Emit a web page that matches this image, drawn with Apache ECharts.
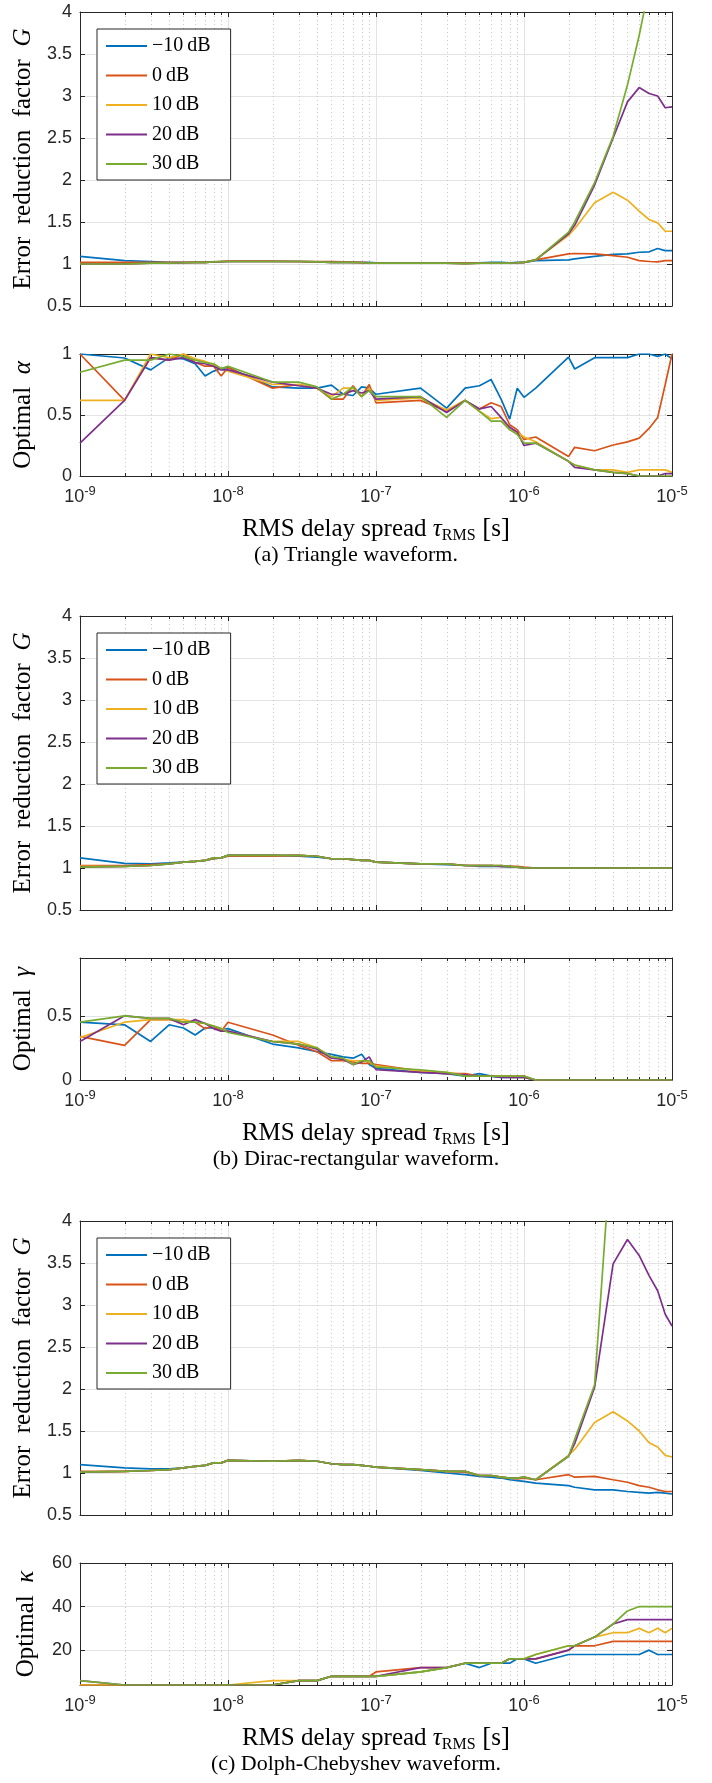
<!DOCTYPE html>
<html><head><meta charset="utf-8">
<script src="https://cdn.jsdelivr.net/npm/echarts@6/dist/echarts.min.js"></script>
<style>html,body{margin:0;padding:0;background:#fff}#c{width:712px;height:1783px}</style>
</head><body><div id="c"></div>
<script>
// ---------------- data ----------------
const tau = [1e-9,2e-9,3e-9,4e-9,5e-9,6e-9,7e-9,8e-9,9e-9,
  1e-8,2e-8,3e-8,4e-8,5e-8,6e-8,7e-8,8e-8,9e-8,
  1e-7,2e-7,3e-7,4e-7,5e-7,6e-7,7e-7,8e-7,9e-7,
  1e-6,1.2e-6,2e-6,2.2e-6,3e-6,4e-6,5e-6,6e-6,7e-6,8e-6,9e-6,1e-5];
const minorTau = [2e-9,3e-9,4e-9,5e-9,6e-9,7e-9,8e-9,9e-9,
  2e-8,3e-8,4e-8,5e-8,6e-8,7e-8,8e-8,9e-8,
  2e-7,3e-7,4e-7,5e-7,6e-7,7e-7,8e-7,9e-7,
  2e-6,3e-6,4e-6,5e-6,6e-6,7e-6,8e-6,9e-6];
const snrNames = ['\u221210\u2009dB','0\u2009dB','10\u2009dB','20\u2009dB','30\u2009dB'];
const captions = ['(a) Triangle waveform.','(b) Dirac-rectangular waveform.','(c) Dolph-Chebyshev waveform.'];
const gTicks = [0.5,1,1.5,2,2.5,3,3.5,4];
const alphaTicks = [0,0.5,1];
const gammaTicks = [0,0.5];
const kappaTicks = [20,40,60];

// (a) Triangle: error reduction factor G
const triG_m10 = [1.09,1.04,1.03,1.02,1.02,1.02,1.02,1.025,1.025, 1.03,1.03,1.03,1.025,1.02,1.02,1.02,1.02,1.02, 1.015,1.01,1.01,1.01,1.015,1.02,1.02,1.015,1.02, 1.02,1.04,1.05,1.06,1.09,1.115,1.12,1.14,1.145,1.185,1.16,1.16];
const triG_0   = [1.02,1.02,1.02,1.02,1.02,1.02,1.02,1.025,1.03, 1.035,1.035,1.03,1.03,1.03,1.025,1.02,1.02,1.015, 1.01,1.01,1.01,1.01,1.01,1.01,1.01,1.01,1.015, 1.02,1.05,1.12,1.125,1.12,1.10,1.08,1.04,1.03,1.025,1.04,1.04];
const triG_10  = [1.0,1.0,1.01,1.01,1.015,1.02,1.02,1.025,1.03, 1.03,1.03,1.03,1.025,1.02,1.02,1.02,1.015,1.01, 1.01,1.01,1.01,1.005,1.01,1.01,1.01,1.01,1.015, 1.02,1.05,1.34,1.42,1.73,1.855,1.76,1.63,1.53,1.49,1.39,1.39];
const triG_20  = [1.0,1.0,1.01,1.01,1.015,1.02,1.02,1.025,1.03, 1.03,1.03,1.03,1.025,1.02,1.02,1.02,1.015,1.01, 1.01,1.01,1.01,1.005,1.01,1.01,1.01,1.01,1.015, 1.02,1.05,1.36,1.46,1.94,2.5,2.93,3.1,3.03,3.0,2.86,2.87];
const triG_30  = [1.0,1.0,1.01,1.01,1.015,1.02,1.02,1.025,1.03, 1.03,1.03,1.03,1.025,1.02,1.02,1.02,1.015,1.01, 1.01,1.01,1.01,1.005,1.01,1.01,1.01,1.01,1.015, 1.02,1.05,1.38,1.5,1.97,2.52,3.13,3.72,4.3,4.7,5.0,5.3];
// (a) Triangle: optimal alpha
const triA_m10 = [1.0,0.967,0.87,0.97,0.96,0.92,0.82,0.86,0.88, 0.89,0.73,0.72,0.72,0.745,0.67,0.66,0.73,0.72, 0.67,0.72,0.556,0.72,0.74,0.79,0.63,0.466,0.72, 0.645,0.72,0.975,0.877,0.97,0.97,0.97,1.0,1.0,0.98,1.0,0.96];
const triA_0   = [1.0,0.62,0.97,0.95,1.0,0.93,0.90,0.90,0.82, 0.89,0.72,0.75,0.72,0.63,0.63,0.74,0.65,0.75, 0.60,0.62,0.53,0.62,0.55,0.60,0.57,0.42,0.38, 0.30,0.32,0.16,0.235,0.207,0.254,0.28,0.31,0.39,0.48,0.75,1.0];
const triA_10  = [0.62,0.62,1.0,0.97,1.0,0.96,0.94,0.91,0.88, 0.86,0.75,0.75,0.72,0.65,0.72,0.72,0.65,0.72, 0.62,0.64,0.54,0.62,0.53,0.47,0.48,0.38,0.36, 0.32,0.28,0.12,0.09,0.05,0.05,0.03,0.05,0.05,0.05,0.05,0.03];
const triA_20  = [0.27,0.62,0.97,0.95,0.97,0.93,0.92,0.90,0.87, 0.87,0.77,0.74,0.72,0.67,0.67,0.70,0.68,0.70, 0.63,0.65,0.52,0.62,0.55,0.57,0.48,0.40,0.36, 0.25,0.27,0.12,0.07,0.05,0.03,0.02,0.0,0.0,0.0,0.02,0.02];
const triA_30  = [0.85,0.95,0.95,1.0,0.98,0.95,0.93,0.92,0.88, 0.90,0.77,0.77,0.73,0.63,0.67,0.73,0.65,0.70, 0.65,0.65,0.48,0.62,0.53,0.45,0.45,0.38,0.34, 0.27,0.27,0.12,0.09,0.05,0.03,0.02,0.0,0.0,0.0,0.0,0.0];

// (b) Dirac-rectangular: G
const dirG_m10 = [1.12,1.055,1.05,1.06,1.07,1.08,1.09,1.11,1.12, 1.15,1.15,1.14,1.13,1.11,1.11,1.10,1.09,1.09, 1.07,1.05,1.04,1.03,1.02,1.02,1.02,1.01,1.01, 1.0,1.0,1.0,1.0,1.0,1.0,1.0,1.0,1.0,1.0,1.0,1.0];
const dirG_0   = [1.03,1.03,1.04,1.05,1.07,1.08,1.09,1.11,1.12, 1.14,1.14,1.15,1.14,1.11,1.11,1.10,1.09,1.09, 1.07,1.05,1.05,1.03,1.03,1.03,1.03,1.02,1.02, 1.01,1.0,1.0,1.0,1.0,1.0,1.0,1.0,1.0,1.0,1.0,1.0];
const dirG_10  = [1.02,1.02,1.03,1.05,1.07,1.08,1.09,1.12,1.12, 1.15,1.15,1.15,1.14,1.11,1.11,1.10,1.09,1.09, 1.07,1.05,1.05,1.03,1.03,1.03,1.02,1.02,1.01, 1.0,1.0,1.0,1.0,1.0,1.0,1.0,1.0,1.0,1.0,1.0,1.0];
const dirG_20  = [1.01,1.02,1.03,1.05,1.07,1.08,1.09,1.12,1.12, 1.15,1.15,1.15,1.14,1.11,1.11,1.10,1.09,1.09, 1.07,1.05,1.05,1.03,1.03,1.03,1.02,1.02,1.01, 1.0,1.0,1.0,1.0,1.0,1.0,1.0,1.0,1.0,1.0,1.0,1.0];
const dirG_30  = [1.01,1.02,1.03,1.05,1.07,1.08,1.09,1.12,1.12, 1.15,1.15,1.15,1.14,1.11,1.11,1.10,1.09,1.09, 1.07,1.05,1.05,1.03,1.03,1.03,1.03,1.02,1.01, 1.0,1.0,1.0,1.0,1.0,1.0,1.0,1.0,1.0,1.0,1.0,1.0];
// (b) Dirac-rectangular: optimal gamma
const dirY_m10 = [0.45,0.43,0.30,0.43,0.405,0.35,0.405,0.405,0.39, 0.40,0.28,0.25,0.22,0.20,0.18,0.17,0.20,0.12, 0.09,0.06,0.05,0.03,0.05,0.03,0.02,0.02,0.02, 0.02,0.0,0.0,0.0,0.0,0.0,0.0,0.0,0.0,0.0,0.0,0.0];
const dirY_0   = [0.34,0.27,0.47,0.47,0.45,0.45,0.40,0.42,0.38, 0.45,0.35,0.27,0.22,0.15,0.15,0.14,0.13,0.13, 0.12,0.07,0.05,0.05,0.03,0.03,0.03,0.03,0.03, 0.03,0.0,0.0,0.0,0.0,0.0,0.0,0.0,0.0,0.0,0.0,0.0];
const dirY_10  = [0.33,0.45,0.47,0.47,0.47,0.45,0.44,0.42,0.40, 0.38,0.30,0.30,0.25,0.18,0.16,0.15,0.15,0.14, 0.11,0.07,0.06,0.04,0.03,0.03,0.03,0.02,0.02, 0.02,0.0,0.0,0.0,0.0,0.0,0.0,0.0,0.0,0.0,0.0,0.0];
const dirY_20  = [0.30,0.50,0.48,0.48,0.43,0.47,0.44,0.40,0.38, 0.38,0.30,0.28,0.24,0.17,0.16,0.12,0.14,0.18, 0.08,0.06,0.05,0.04,0.03,0.03,0.02,0.02,0.02, 0.02,0.0,0.0,0.0,0.0,0.0,0.0,0.0,0.0,0.0,0.0,0.0];
const dirY_30  = [0.45,0.50,0.48,0.48,0.45,0.45,0.44,0.42,0.40, 0.37,0.30,0.28,0.25,0.18,0.17,0.12,0.15,0.15, 0.10,0.08,0.06,0.03,0.03,0.03,0.03,0.03,0.03, 0.03,0.0,0.0,0.0,0.0,0.0,0.0,0.0,0.0,0.0,0.0,0.0];

// (c) Dolph-Chebyshev: G
const dolG_m10 = [1.10,1.06,1.05,1.05,1.06,1.08,1.09,1.12,1.12, 1.15,1.14,1.14,1.14,1.11,1.10,1.10,1.09,1.08, 1.07,1.03,1.0,0.98,0.96,0.95,0.94,0.92,0.91, 0.90,0.88,0.85,0.83,0.80,0.80,0.78,0.77,0.76,0.77,0.76,0.75];
const dolG_0   = [1.02,1.02,1.03,1.04,1.06,1.08,1.09,1.12,1.12, 1.15,1.14,1.15,1.14,1.11,1.10,1.10,1.09,1.08, 1.07,1.04,1.02,1.01,0.97,0.97,0.95,0.94,0.93, 0.94,0.92,0.98,0.95,0.96,0.92,0.89,0.85,0.83,0.80,0.78,0.78];
const dolG_10  = [1.01,1.02,1.03,1.04,1.06,1.08,1.09,1.12,1.12, 1.15,1.14,1.15,1.14,1.11,1.10,1.10,1.09,1.08, 1.07,1.04,1.02,1.02,0.97,0.97,0.95,0.94,0.94, 0.95,0.92,1.21,1.28,1.60,1.73,1.62,1.50,1.36,1.31,1.21,1.19];
const dolG_20  = [1.01,1.02,1.03,1.04,1.06,1.08,1.09,1.12,1.12, 1.15,1.14,1.15,1.14,1.11,1.10,1.10,1.09,1.08, 1.07,1.04,1.02,1.02,0.97,0.97,0.95,0.94,0.94, 0.95,0.92,1.20,1.35,2.02,3.49,3.78,3.59,3.35,3.17,2.89,2.75];
const dolG_30  = [1.01,1.02,1.03,1.04,1.06,1.08,1.09,1.12,1.12, 1.15,1.14,1.15,1.14,1.11,1.10,1.10,1.09,1.08, 1.07,1.04,1.02,1.02,0.97,0.97,0.95,0.94,0.94, 0.95,0.92,1.20,1.40,2.05,5.2,6.5,7.0,7.5,8.0,8.2,8.5];
// (c) Dolph-Chebyshev: optimal kappa
const dolK_m10 = [4,4,4,4,4,4,4,4,4, 4,4,6,6,8,8,8,8,8, 8,10,12,14,12,14,14,14,16, 16,14,18,18,18,18,18,18,20,18,18,18];
const dolK_0   = [4,4,4,4,4,4,4,4,4, 4,4,6,6,8,8,8,8,8, 10,12,12,14,14,14,14,16,16, 16,16,20,22,22,24,24,24,24,24,24,24];
const dolK_10  = [4,4,4,4,4,4,4,4,4, 4,6,6,6,8,8,8,8,8, 8,10,12,14,14,14,14,16,16, 16,18,22,22,26,28,28,30,28,30,28,30];
const dolK_20  = [6,4,4,4,4,4,4,4,4, 4,4,6,6,8,8,8,8,8, 8,12,12,14,14,14,14,16,16, 16,16,20,22,26,32,34,34,34,34,34,34];
const dolK_30  = [6,4,4,4,4,4,4,4,4, 4,4,6,6,8,8,8,8,8, 8,10,12,14,14,14,14,16,16, 16,18,22,22,26,32,38,40,40,40,40,40];

// ---------------- chart ----------------
const colors = ['#0072BD','#D95319','#EDB120','#7E2F8E','#77AC30'];
const AX = '#262626';
const SERIF = 'Liberation Serif';
const SANS = 'Liberation Sans';

const panels = [
  {g:[triG_m10,triG_0,triG_10,triG_20,triG_30], s:[triA_m10,triA_0,triA_10,triA_20,triA_30], sym:'\u03b1', sMin:0, sMax:1, sTicks:alphaTicks},
  {g:[dirG_m10,dirG_0,dirG_10,dirG_20,dirG_30], s:[dirY_m10,dirY_0,dirY_10,dirY_20,dirY_30], sym:'\u03b3', sMin:0, sMax:0.95, sTicks:gammaTicks},
  {g:[dolG_m10,dolG_0,dolG_10,dolG_20,dolG_30], s:[dolK_m10,dolK_0,dolK_10,dolK_20,dolK_30], sym:'\u03ba', sMin:4, sMax:60, sTicks:kappaTicks}
];
const panelTop = [12, 616, 1221];
const G_H = 294, S_OFF = 342, S_H = 122, LEFT = 80, WIDTH = 592;

const grid = [], xAxis = [], yAxis = [], series = [], legend = [], title = [];

function minorRender(params, api) {
  const cs = params.coordSys;
  const x = Math.round(api.coord([api.value(0), api.value(1)])[0]) + 0.5;
  const y0 = cs.y, y1 = cs.y + cs.height;
  return {type:'group', children:[
    {type:'line', shape:{x1:x,y1:y0,x2:x,y2:y1}, style:{stroke:'#c8c8c8', lineWidth:1, lineDash:[1,3]}, silent:true},
    {type:'line', shape:{x1:x,y1:y1,x2:x,y2:y1-3}, style:{stroke:AX, lineWidth:1}, silent:true},
    {type:'line', shape:{x1:x,y1:y0,x2:x,y2:y0+3}, style:{stroke:AX, lineWidth:1}, silent:true}
  ]};
}

const xLabelRich = {
  b:{fontFamily:SANS, fontSize:18, color:AX, lineHeight:21, verticalAlign:'bottom'},
  s:{fontFamily:SANS, fontSize:13, color:AX, lineHeight:13, verticalAlign:'top'}
};

function addGrid(top, height, isSmall, yCfg, datasets, yName) {
  const gi = grid.length;
  grid.push({left:LEFT, top:top, width:WIDTH, height:height, containLabel:false});
  const xb = xAxis.length;
  const common = {type:'log', logBase:10, min:1e-9, max:1e-5, gridIndex:gi};
  xAxis.push(Object.assign({}, common, {
    position:'bottom',
    axisLine:{show:true, onZero:false, lineStyle:{color:AX, width:1}},
    axisTick:{show:true, inside:true, length:5, lineStyle:{color:AX}},
    splitLine:{show:true, lineStyle:{color:'#e3e3e3', width:1}},
    minorTick:{show:false}, minorSplitLine:{show:false},
    axisLabel:{show:isSmall, margin:9, showMinLabel:true, showMaxLabel:true,
      formatter: v => '{b|10}{s|' + Math.round(Math.log10(v)) + '}', rich:xLabelRich},
    name: isSmall ? '{n|RMS delay spread }{i|\u03c4}{sub|RMS}{br| [}{n|s}{br|]}' : '',
    nameLocation:'middle', nameGap:39,
    nameTextStyle:{rich:{
      n:{fontFamily:SERIF, fontSize:25, color:'#000', lineHeight:29},
      br:{fontFamily:SERIF, fontSize:27, color:'#000', lineHeight:29},
      i:{fontFamily:SERIF, fontStyle:'italic', fontSize:25, color:'#000', lineHeight:29},
      sub:{fontFamily:SERIF, fontSize:16, color:'#000', lineHeight:16, verticalAlign:'bottom'}
    }}
  }));
  xAxis.push(Object.assign({}, common, {
    position:'top',
    axisLine:{show:true, onZero:false, lineStyle:{color:AX, width:1}},
    axisTick:{show:true, inside:true, length:5, lineStyle:{color:AX}},
    splitLine:{show:false}, axisLabel:{show:false}
  }));
  const yb = yAxis.length;
  const ycommon = {type:'value', gridIndex:gi, min:yCfg.min, max:yCfg.max};
  yAxis.push(Object.assign({}, ycommon, {
    position:'left',
    axisLine:{show:true, onZero:false, lineStyle:{color:AX, width:1}},
    axisTick:{show:true, inside:true, length:5, lineStyle:{color:AX}, customValues:yCfg.ticks},
    axisLabel:{show:true, margin:8, color:AX, fontFamily:SANS, fontSize:18, customValues:yCfg.ticks,
      formatter: v => String(v)},
    splitLine:{show:true, lineStyle:{color:'#e3e3e3', width:1}},
    name: yName, nameLocation:'middle', nameRotate:90, nameGap:40,
    nameTextStyle:{rich:{
      n:{fontFamily:SERIF, fontSize:25, color:'#000', lineHeight:27},
      i:{fontFamily:SERIF, fontStyle:'italic', fontSize:25, color:'#000', lineHeight:27}
    }}
  }));
  yAxis.push(Object.assign({}, ycommon, {
    position:'right',
    axisLine:{show:true, onZero:false, lineStyle:{color:AX, width:1}},
    axisTick:{show:true, inside:true, length:5, lineStyle:{color:AX}, customValues:yCfg.ticks},
    axisLabel:{show:false, customValues:yCfg.ticks}, splitLine:{show:false}
  }));
  series.push({
    type:'custom', name:'minor', xAxisIndex:xb, yAxisIndex:yb, z:1, silent:true, clip:false,
    renderItem:minorRender, data:minorTau.map(t => [t, yCfg.min])
  });
  datasets.forEach((arr, k) => {
    series.push({
      type:'line', name:snrNames[k], xAxisIndex:xb, yAxisIndex:yb, z:3,
      showSymbol:false, symbol:'none', clip:true,
      lineStyle:{color:colors[k], width:1.7}, itemStyle:{color:colors[k]},
      data: tau.map((t, i) => [t, arr[i]])
    });
  });
}

panels.forEach((p, pi) => {
  const t = panelTop[pi];
  addGrid(t, G_H, false, {min:0.5, max:4, ticks:gTicks}, p.g,
    '{n|Error  reduction  factor  }{i|G}');
  addGrid(t + S_OFF, S_H, true, {min:p.sMin, max:p.sMax, ticks:p.sTicks}, p.s,
    '{n|Optimal  }{i|' + p.sym + '}');
  legend.push({
    data:snrNames, orient:'vertical', left:97, top:t + 17,
    padding:[7, 20, 6, 8], itemWidth:41, itemHeight:20, itemGap:9.5,
    backgroundColor:'#fff', borderColor:AX, borderWidth:1, borderRadius:0,
    itemStyle:{opacity:0}, lineStyle:{width:2},
    textStyle:{fontFamily:SERIF, fontSize:20, color:'#000', lineHeight:20},
    selectedMode:false
  });
  title.push({
    text:captions[pi], left:'center', top:t + S_OFF + S_H + 63,
    textStyle:{fontFamily:SERIF, fontSize:22, fontWeight:'normal', color:'#000'}
  });
});

const chart = echarts.init(document.getElementById('c'), null, {renderer:'canvas'});
chart.setOption({
  animation:false, backgroundColor:'#fff',
  grid, xAxis, yAxis, series, legend, title
});
</script></body></html>
